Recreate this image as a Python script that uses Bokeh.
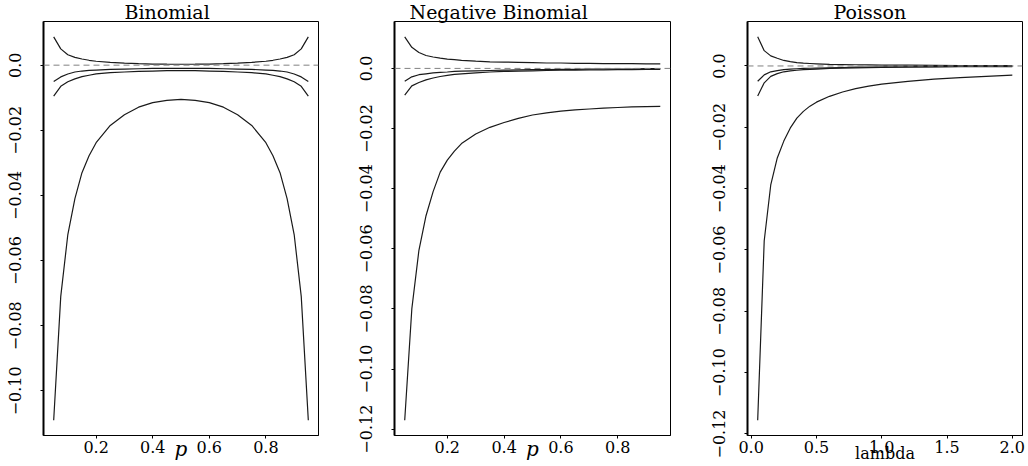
from bokeh.plotting import figure
from bokeh.layouts import row
from bokeh.models import Range1d, FixedTicker, Span
from bokeh.embed import file_html
from bokeh.resources import INLINE

FONT = "DejaVu Serif"

# ---------------- Binomial ----------------
p_binom = [0.05, 0.075, 0.1, 0.125, 0.15, 0.175, 0.2, 0.25, 0.3, 0.35, 0.4, 0.45, 0.5,
           0.55, 0.6, 0.65, 0.7, 0.75, 0.8, 0.825, 0.85, 0.875, 0.9, 0.925, 0.95]
binom_upper = [0.0087, 0.0050, 0.0032, 0.0024, 0.0019, 0.0015, 0.0012, 0.00085, 0.0006, 0.00045, 0.00035, 0.0003, 0.00028,
               0.0003, 0.00035, 0.00045, 0.0006, 0.00085, 0.0012, 0.0015, 0.0019, 0.0024, 0.0032, 0.0050, 0.0087]
binom_mid = [-0.0050, -0.0036, -0.0027, -0.0021, -0.0018, -0.0016, -0.0015, -0.0013, -0.0012, -0.0011, -0.0010, -0.0010, -0.0010,
             -0.0010, -0.0010, -0.0011, -0.0012, -0.0013, -0.0015, -0.0016, -0.0018, -0.0021, -0.0027, -0.0036, -0.0050]
binom_low = [-0.0095, -0.0065, -0.0051, -0.0042, -0.0035, -0.0031, -0.0027, -0.0023, -0.0021, -0.0019, -0.0018, -0.0017, -0.0017,
             -0.0017, -0.0018, -0.0019, -0.0021, -0.0023, -0.0027, -0.0031, -0.0035, -0.0042, -0.0051, -0.0065, -0.0095]
binom_big = [-0.109, -0.071, -0.052, -0.041, -0.033, -0.0278, -0.0238, -0.0185, -0.0152, -0.0129, -0.0115, -0.0108, -0.0105,
             -0.0108, -0.0115, -0.0129, -0.0152, -0.0185, -0.0238, -0.0278, -0.033, -0.041, -0.052, -0.071, -0.109]

# ---------------- Negative Binomial ----------------
p_nb = [0.05, 0.075, 0.1, 0.125, 0.15, 0.175, 0.2, 0.225, 0.25, 0.3, 0.35, 0.4, 0.45, 0.5,
        0.55, 0.6, 0.65, 0.7, 0.75, 0.8, 0.85, 0.9, 0.95]
nb_upper = [0.0105, 0.0070, 0.0053, 0.0043, 0.0038, 0.0034, 0.0031, 0.0029, 0.0027, 0.0024, 0.0022, 0.0021, 0.0020, 0.0019,
            0.0018, 0.0018, 0.0017, 0.0017, 0.0016, 0.0016, 0.0016, 0.0015, 0.0015]
nb_mid = [-0.0043, -0.0028, -0.0021, -0.0018, -0.0015, -0.0013, -0.0012, -0.0010, -0.0009, -0.0008, -0.0007, -0.0006, -0.0005, -0.0004,
          -0.0004, -0.0003, -0.0003, -0.0002, -0.0002, -0.0002, -0.0002, -0.0001, -0.0001]
nb_low = [-0.0089, -0.0058, -0.0047, -0.0038, -0.0032, -0.0027, -0.0023, -0.0020, -0.0018, -0.0015, -0.0012, -0.0010, -0.0009, -0.0008,
          -0.0007, -0.0006, -0.0006, -0.0005, -0.0005, -0.0004, -0.0004, -0.0003, -0.0003]
nb_big = [-0.117, -0.080, -0.0605, -0.049, -0.041, -0.0345, -0.0305, -0.0275, -0.025, -0.0218, -0.0196, -0.018, -0.0166, -0.0155,
          -0.0148, -0.0142, -0.0138, -0.0135, -0.0132, -0.0130, -0.0128, -0.0127, -0.0126]

# ---------------- Poisson ----------------
lam = [0.05, 0.1, 0.15, 0.2, 0.25, 0.3, 0.35, 0.4, 0.45, 0.5, 0.6, 0.7, 0.8, 0.9, 1.0, 1.2, 1.4, 1.6, 1.8, 2.0]
pois_upper = [0.0095, 0.0050, 0.0033, 0.0025, 0.0018, 0.0014, 0.0011, 0.0009, 0.0008, 0.0007, 0.0005, 0.00045, 0.0004, 0.00035,
              0.0003, 0.00025, 0.0002, 0.00015, 0.00012, 0.0001]
pois_mid = [-0.0050, -0.0029, -0.0019, -0.0015, -0.0012, -0.0010, -0.0009, -0.0008, -0.00075, -0.0007, -0.0006, -0.0005, -0.0004,
            -0.00035, -0.0003, -0.00025, -0.0002, -0.00015, -0.00012, -0.0001]
pois_low = [-0.0098, -0.0055, -0.0034, -0.0025, -0.0019, -0.0016, -0.0014, -0.0012, -0.0011, -0.0010, -0.0008, -0.0007, -0.0006,
            -0.00055, -0.0005, -0.0004, -0.0003, -0.00025, -0.0002, -0.0002]
pois_big = [-0.1155, -0.057, -0.0388, -0.030, -0.0245, -0.0202, -0.0170, -0.0148, -0.0131, -0.0118, -0.0099, -0.0085, -0.0074,
            -0.0066, -0.0059, -0.0050, -0.0043, -0.0038, -0.0034, -0.0030]

titles = ["Binomial", "Negative Binomial", "Poisson"]
x_labels = ["p", "p", "lambda"]
p_ticks = [0.2, 0.4, 0.6, 0.8]
p_tick_labels = ["0.2", "0.4", "0.6", "0.8"]
lam_ticks = [0.0, 0.5, 1.0, 1.5, 2.0]
lam_tick_labels = ["0.0", "0.5", "1.0", "1.5", "2.0"]
y_ticks_binom = [0.0, -0.02, -0.04, -0.06, -0.08, -0.10]
y_ticks_other = [0.0, -0.02, -0.04, -0.06, -0.08, -0.10, -0.12]
y_tick_labels = ["0.0", "\u22120.02", "\u22120.04", "\u22120.06", "\u22120.08", "\u22120.10", "\u22120.12"]


def padded(lo, hi):
    d = (hi - lo) * 0.04
    return lo - d, hi + d


def make_panel(x, series, title, title_offset, xlab, italic, xticks, xtlabels, yticks,
               width, bl, br):
    ymin = min(min(s) for s in series)
    ymax = max(max(s) for s in series)
    y0, y1 = padded(ymin, ymax)
    x0, x1 = padded(min(x), max(x))
    p = figure(width=width, height=466, x_range=Range1d(x0, x1), y_range=Range1d(y0, y1),
               output_backend="svg", toolbar_location=None,
               min_border_left=bl, min_border_right=br, min_border_top=20, min_border_bottom=31)
    p.grid.visible = False
    p.outline_line_color = "black"
    p.outline_line_width = 1
    p.outline_line_alpha = 1.0
    p.background_fill_color = "white"
    p.border_fill_color = "white"

    p.title.text = title
    p.title.align = "left"
    p.title.offset = title_offset
    p.title.standoff = -3
    p.title.text_font = FONT
    p.title.text_font_size = "19px"
    p.title.text_font_style = "normal"
    p.title.text_color = "black"

    p.add_layout(Span(location=0, dimension="width", line_color="#808080",
                      line_dash="6 4", line_width=1))
    for s in series:
        p.line(x, s, line_color="#1a1a1a", line_width=1.2)

    xa = p.xaxis[0]
    xa.ticker = FixedTicker(ticks=xticks, minor_ticks=[])
    xa.major_label_overrides = dict(zip(xticks, xtlabels))
    xa.major_tick_in = 0
    xa.major_tick_out = 3
    xa.minor_tick_out = 0
    xa.minor_tick_in = 0
    xa.axis_line_color = "black"
    xa.major_tick_line_color = "black"
    xa.major_label_text_font = FONT
    xa.major_label_text_font_size = "16px"
    xa.major_label_text_color = "black"
    xa.major_label_standoff = 2
    xa.axis_label = xlab
    xa.axis_label_text_font = FONT
    xa.axis_label_text_color = "black"
    if italic:
        xa.axis_label_text_font_style = "italic"
        xa.axis_label_text_font_size = "20px"
        xa.axis_label_standoff = -19
    else:
        xa.axis_label_text_font_style = "normal"
        xa.axis_label_text_font_size = "16px"
        xa.axis_label_standoff = -12

    ya = p.yaxis[0]
    ya.ticker = FixedTicker(ticks=yticks, minor_ticks=[])
    ya.major_label_overrides = dict(zip(yticks, y_tick_labels[:len(yticks)]))
    ya.major_label_orientation = "vertical"
    ya.major_tick_in = 0
    ya.major_tick_out = 3
    ya.minor_tick_out = 0
    ya.minor_tick_in = 0
    ya.axis_line_color = "black"
    ya.axis_line_width = 2
    ya.major_tick_line_color = "black"
    ya.major_label_text_font = FONT
    ya.major_label_text_font_size = "16px"
    ya.major_label_text_color = "black"
    ya.major_label_standoff = 19
    return p


p1 = make_panel(p_binom, [binom_upper, binom_mid, binom_low, binom_big], titles[0], 81,
                x_labels[0], True, p_ticks, p_tick_labels, y_ticks_binom, 351, 43, 33)
p2 = make_panel(p_nb, [nb_upper, nb_mid, nb_low, nb_big], titles[1], 15,
                x_labels[1], True, p_ticks, p_tick_labels, y_ticks_other, 353, 43, 34)
p3 = make_panel(lam, [pois_upper, pois_mid, pois_low, pois_big], titles[2], 86,
                x_labels[2], False, lam_ticks, lam_tick_labels, y_ticks_other, 324, 43, 6)

layout = row(p1, p2, p3)
open("out.html", "w").write(file_html(layout, INLINE))
